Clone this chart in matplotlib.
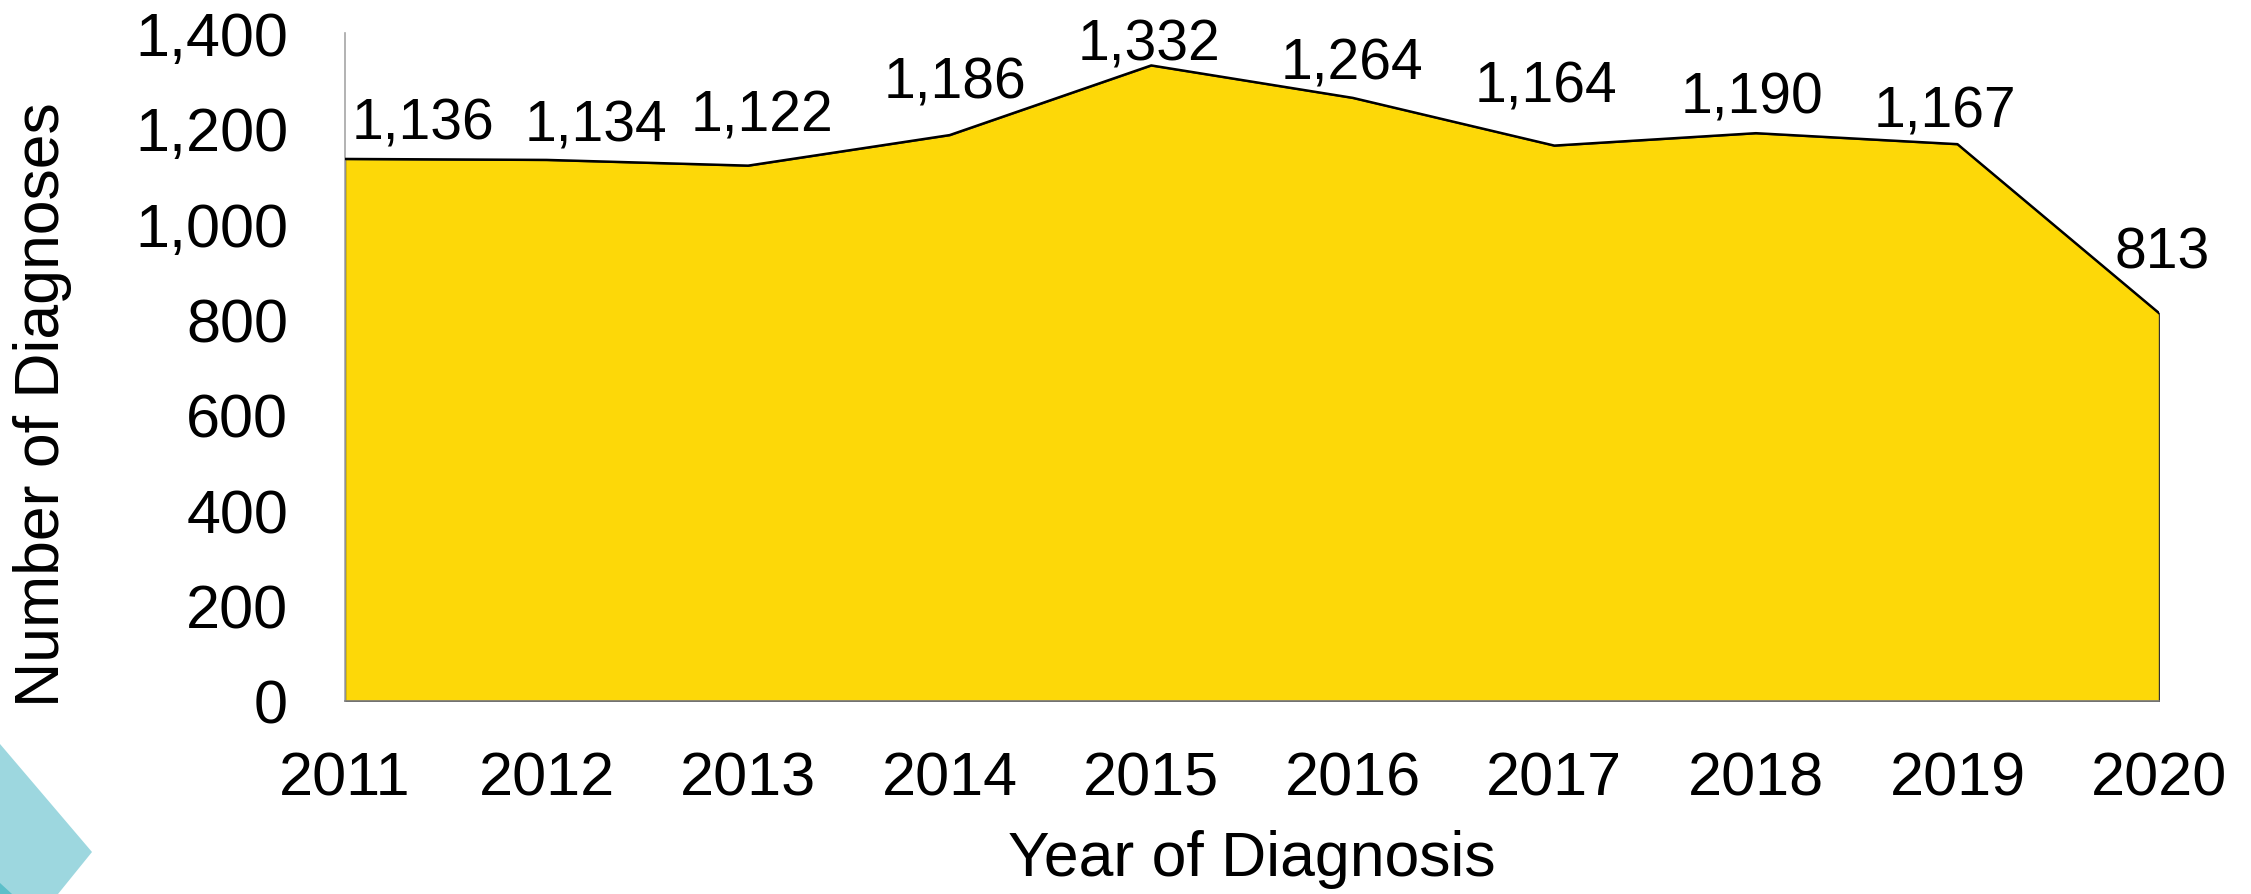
import matplotlib
matplotlib.use("Agg")
import matplotlib.pyplot as plt
from matplotlib.patches import Polygon
from matplotlib.ticker import FuncFormatter

years = [2011, 2012, 2013, 2014, 2015, 2016, 2017, 2018, 2019, 2020]
diagnoses = [1136, 1134, 1122, 1186, 1332, 1264, 1164, 1190, 1167, 813]
y_ticks = [0, 200, 400, 600, 800, 1000, 1200, 1400]

# label placement (pixels from the point), hand-tuned like the original slide
label_offsets = [(78, 20), (49, 19), (14, 35), (5, 38), (-2, 6),
                 (-1, 19), (-8, 44), (-4, 21), (-13, 18), (3, 46)]

plt.rcParams["font.family"] = ["Liberation Sans", "DejaVu Sans"]

W, H = 2251, 895
fig = plt.figure(figsize=(W / 100, H / 100), dpi=100)
ax = fig.add_axes([345 / W, 1 - 702 / H, (2159 - 345) / W, (702 - 34) / H])

# teal corner decoration (figure pixel coords)
light = Polygon([(0, H - 745), (92, H - 853), (58, 0), (0, 0)],
                closed=True, transform=None, facecolor="#9dd7df", edgecolor="none")
dark = Polygon([(0, 11), (12, 0), (0, 0)],
               closed=True, transform=None, facecolor="#5cbfc9", edgecolor="none")
fig.patches.extend([light, dark])

ax.fill_between(years, diagnoses, 0, facecolor="#fdd808", edgecolor="#333333",
                linewidth=1.0, zorder=2)
ax.plot(years, diagnoses, color="black", linewidth=1.8, zorder=3)

for x, v, (dx, dy) in zip(years, diagnoses, label_offsets):
    ax.annotate(f"{v:,}", (x, v), xytext=(dx, dy), textcoords="offset pixels",
                ha="center", va="baseline", fontsize=41, color="black")

ax.set_xlim(years[0], years[-1])
ax.set_ylim(0, 1400)
ax.set_xticks(years)
ax.set_yticks(y_ticks)
ax.yaxis.set_major_formatter(FuncFormatter(lambda v, _: f"{int(v):,}"))
ax.tick_params(axis="both", length=0, labelsize=44)
ax.tick_params(axis="y", pad=41)
ax.tick_params(axis="x", pad=36)

for side in ["top", "right"]:
    ax.spines[side].set_visible(False)
ax.spines["left"].set_color("#a6a6a6")
ax.spines["left"].set_linewidth(1.2)
ax.spines["bottom"].set_color("#7f7f7f")
ax.spines["bottom"].set_linewidth(1.2)

ax.set_xlabel("Year of Diagnosis", fontsize=45, labelpad=15)
fig.text(43 / W, 1 - 405 / H, "Number of Diagnoses", rotation=90,
         ha="center", va="center", fontsize=45)

fig.savefig("out.png", dpi=100)
